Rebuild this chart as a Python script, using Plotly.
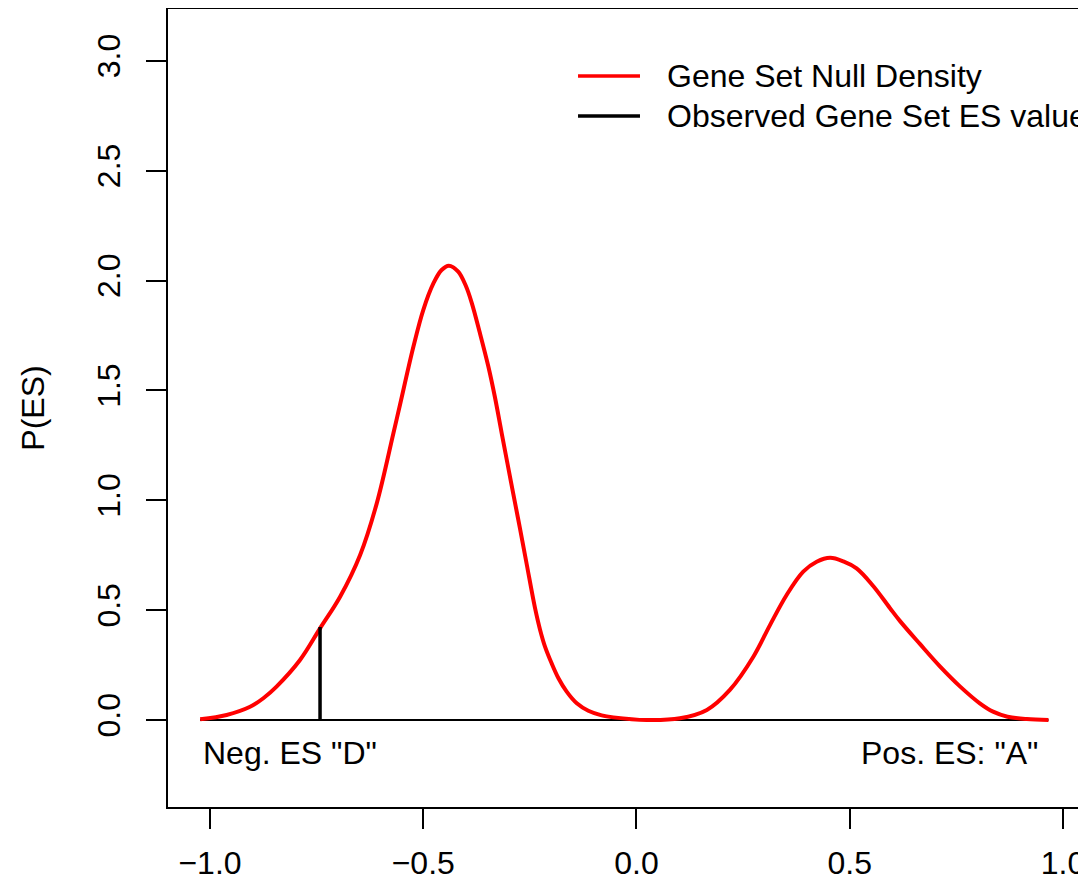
import plotly.graph_objects as go

# ---- data ----
es_grid = [-1.023, -0.961, -0.906, -0.875, -0.844, -0.789, -0.742, -0.695, -0.648, -0.609,
           -0.570, -0.5545, -0.523, -0.500, -0.476, -0.457, -0.440, -0.418, -0.400, -0.3865,
           -0.367, -0.3475, -0.332, -0.316, -0.289, -0.273, -0.2575, -0.238, -0.226, -0.2145,
           -0.199, -0.183, -0.1637, -0.140, -0.113, -0.0816, -0.054, 0.024, 0.102, 0.165,
           0.219, 0.274, 0.313, 0.352, 0.391, 0.4225, 0.454, 0.485, 0.516, 0.555,
           0.594, 0.618, 0.665, 0.712, 0.759, 0.805, 0.836, 0.870, 0.915, 0.966]
null_density = [0.003, 0.023, 0.060, 0.099, 0.152, 0.273, 0.417, 0.561, 0.751, 0.986,
                1.305, 1.435, 1.700, 1.866, 1.988, 2.048, 2.068, 2.041, 1.975, 1.900,
                1.760, 1.610, 1.470, 1.305, 1.030, 0.870, 0.710, 0.510, 0.410, 0.334,
                0.258, 0.190, 0.129, 0.076, 0.042, 0.021, 0.012, 0.0, 0.008, 0.046,
                0.137, 0.288, 0.432, 0.569, 0.675, 0.720, 0.738, 0.722, 0.690, 0.610,
                0.510, 0.450, 0.345, 0.243, 0.152, 0.076, 0.038, 0.015, 0.004, 0.0]
observed_es = -0.742
observed_density = 0.423

x_ticks = [-1.0, -0.5, 0.0, 0.5, 1.0]
x_ticklabels = ["\u22121.0", "\u22120.5", "0.0", "0.5", "1.0"]
y_ticks = [0.0, 0.5, 1.0, 1.5, 2.0, 2.5, 3.0]
y_ticklabels = ["0.0", "0.5", "1.0", "1.5", "2.0", "2.5", "3.0"]

legend_labels = ["Gene Set Null Density", "Observed Gene Set ES value"]
legend_colors = ["#ff0000", "#000000"]

FONT = "Liberation Sans, Arial, Helvetica, sans-serif"
FS = 32

fig = go.Figure()

# zero baseline across the density's range
fig.add_trace(go.Scatter(x=[es_grid[0], es_grid[-1]], y=[0, 0], mode="lines",
                         line=dict(color="#000000", width=2), showlegend=False,
                         hoverinfo="skip"))
# null density
fig.add_trace(go.Scatter(x=es_grid, y=null_density, mode="lines",
                         line=dict(color="#ff0000", width=4, shape="spline", smoothing=1.0),
                         showlegend=False))
# observed ES
fig.add_trace(go.Scatter(x=[observed_es, observed_es], y=[0, observed_density], mode="lines",
                         line=dict(color="#000000", width=3.5), showlegend=False))

# manual legend (R style)
leg_y = [0.916, 0.8659]
for lab, col, yy in zip(legend_labels, legend_colors, leg_y):
    fig.add_shape(type="line", xref="paper", yref="paper", x0=0.4486, x1=0.5164,
                  y0=yy, y1=yy, line=dict(color=col, width=3.5))
    fig.add_annotation(xref="paper", yref="paper", x=0.544, y=yy, text=lab,
                       showarrow=False, xanchor="left", yanchor="middle",
                       font=dict(family=FONT, size=FS, color="#000000"))

fig.add_annotation(x=-1.022, y=-0.150, text='Neg. ES "D"', showarrow=False,
                   xanchor="left", yanchor="middle",
                   font=dict(family=FONT, size=FS, color="#000000"))
fig.add_annotation(x=0.945, y=-0.150, text='Pos. ES: "A"', showarrow=False,
                   xanchor="right", yanchor="middle",
                   font=dict(family=FONT, size=FS, color="#000000"))

# page body has an 8px default margin, so figure is sized/offset to compensate
fig.update_layout(
    width=1078, height=874,
    margin=dict(l=160, r=4, t=1, b=75, autoexpand=False),
    paper_bgcolor="white", plot_bgcolor="white",
    font=dict(family=FONT, size=FS, color="#000000"),
    showlegend=False,
)
fig.update_xaxes(range=[-1.0985, 1.0446], tickvals=x_ticks, ticktext=x_ticklabels,
                 showgrid=False, zeroline=False, showline=True, mirror=True,
                 linecolor="#000000", linewidth=1.5, ticks="outside", ticklen=20,
                 tickwidth=1.5, tickcolor="#000000", ticklabelstandoff=7,
                 tickfont=dict(family=FONT, size=FS, color="#000000"))
fig.update_yaxes(range=[-0.396, 3.236], tickvals=y_ticks, ticktext=y_ticklabels,
                 showgrid=False, zeroline=False, showline=True, mirror=True,
                 linecolor="#000000", linewidth=1.5, ticks="outside", ticklen=20,
                 tickwidth=1.5, tickcolor="#000000", tickangle=-90, ticklabelstandoff=13,
                 tickfont=dict(family=FONT, size=FS, color="#000000"),
                 title=dict(text="P(ES)", standoff=37,
                            font=dict(family=FONT, size=FS, color="#000000")))

fig.write_html("out.html")
